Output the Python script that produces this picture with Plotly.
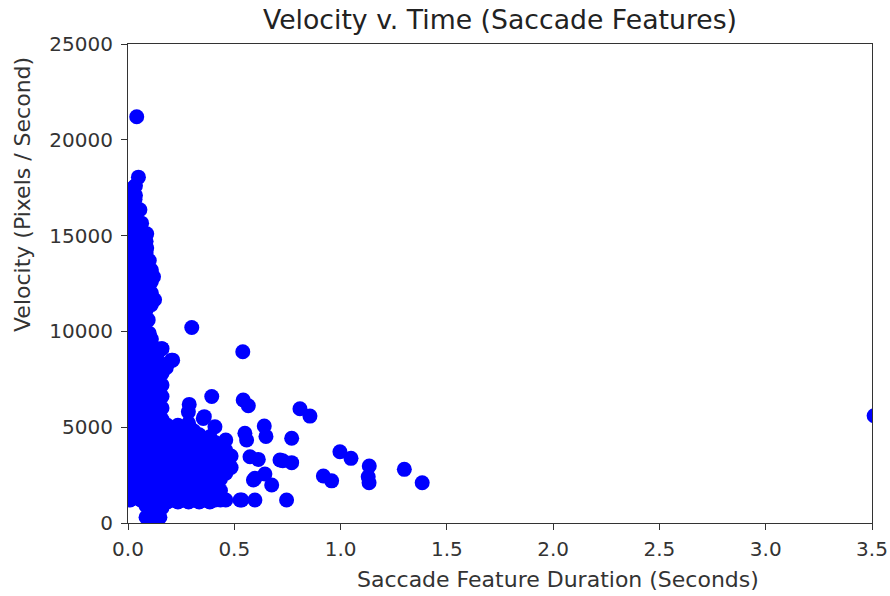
import plotly.graph_objects as go

# ---- data ----
# dense cluster near the origin: one duration per column, with the velocities seen in that column
cluster_durations = [0.010, 0.035, 0.060, 0.085, 0.110, 0.135, 0.150, 0.160, 0.185, 0.210,
                     0.235, 0.260, 0.285, 0.310, 0.335, 0.360, 0.385, 0.410, 0.435, 0.460, 0.485]
cluster_velocities = [
    [1200, 1800, 2400, 3000, 3600, 4200, 4800, 5400, 6000, 6600, 7200, 7800, 8400, 9000,
     9600, 10200, 10800, 11400, 12000, 12600, 13200, 13800, 14400, 15000, 15600, 16200,
     16800, 17400],
    [1500, 2100, 2700, 3300, 3900, 4500, 5100, 5700, 6300, 6900, 7500, 8100, 8700, 9300,
     9900, 10500, 11100, 11700, 12300, 12900, 13500, 14100, 14700, 15300, 15900, 16500,
     17100, 17600],
    [1200, 1800, 2400, 3000, 3600, 4200, 4800, 5400, 6000, 6600, 7200, 7800, 8400, 9000,
     9600, 10200, 10800, 11400, 12000, 12600, 13200, 13800, 14400, 15000, 15600],
    [300, 900, 1500, 2100, 2700, 3300, 3900, 4500, 5100, 5700, 6300, 6900, 7500, 8100,
     8700, 9300, 9900, 10500, 11100, 11700, 12300, 12900, 13500, 14100, 14700],
    [300, 800, 1200, 1800, 2400, 3000, 3600, 4200, 4800, 5400, 6000, 6600, 7200, 7800,
     8400, 9000, 9600, 11400, 12000, 12600, 13200],
    [300, 900, 1500, 2100, 2700, 3300, 3900, 4500, 5100, 5700, 6300, 6900, 7500, 8100,
     8700, 9100],
    [300],
    [800, 1200, 1800, 2400, 3000, 3600, 4200, 4800, 5400, 6000, 6600, 7200, 7800, 8200,
     9100],
    [1100, 1500, 2100, 2700, 3300, 3900, 4500, 5100, 8300],
    [1200, 1800, 2400, 3000, 3600, 4200, 4800, 8500],
    [1100, 1600, 2200, 2800, 3400, 4000, 4600, 5100],
    [1200, 1800, 2400, 3000, 3600, 4200, 4800],
    [1100, 1600, 2200, 2800, 3400, 4000, 4600, 5200],
    [1200, 1800, 2400, 3000, 3600, 4200, 4800],
    [1100, 1600, 2200, 2800, 3400, 4000, 4600],
    [1200, 1800, 2400, 3000, 3600, 4200],
    [1100, 1600, 2200, 2800, 3400, 4000, 4500],
    [1200, 1800, 2400, 3000, 3600, 4200],
    [1200, 1700, 2300, 2900, 3500, 4100],
    [1200, 2600, 3200, 3800],
    [2900, 3500],
]

# points on the tips of the cluster
tip_durations = [0.030, 0.033, 0.041, 0.049, 0.056, 0.064, 0.088, 0.088, 0.100, 0.100,
                 0.120, 0.125, 0.095, 0.100, 0.158, 0.205, 0.180]
tip_velocities = [17550, 16900, 21200, 18050, 16350, 15650, 15100, 14350, 13700, 12650,
                  12850, 11650, 10600, 9900, 9100, 8500, 8100]

# scattered points away from the cluster
outer_durations = [0.300, 0.288, 0.284, 0.359, 0.354, 0.394, 0.409, 0.460,
                   0.540, 0.542, 0.566, 0.550, 0.558, 0.574, 0.613, 0.590, 0.597, 0.644, 0.676,
                   0.527, 0.535, 0.597, 0.641, 0.649, 0.715, 0.728, 0.770, 0.770, 0.746,
                   0.809, 0.856, 0.997, 1.049, 0.919, 0.958, 1.135, 1.130, 1.134, 1.300, 1.384,
                   3.510]
outer_velocities = [10200, 6190, 5800, 5550, 5460, 6600, 5025, 4330,
                    8940, 6420, 6120, 4680, 4330, 3460, 3320, 2245, 2330, 2555, 1985,
                    1200, 1200, 1200, 5060, 4520, 3290, 3250, 3150, 4420, 1200,
                    5960, 5580, 3720, 3375, 2450, 2200, 2975, 2415, 2100, 2800, 2100,
                    5600]

x_ticks = [0.0, 0.5, 1.0, 1.5, 2.0, 2.5, 3.0, 3.5]
x_tick_labels = ["0.0", "0.5", "1.0", "1.5", "2.0", "2.5", "3.0", "3.5"]
y_ticks = [0, 5000, 10000, 15000, 20000, 25000]
y_tick_labels = ["0", "5000", "10000", "15000", "20000", "25000"]

title_text = "Velocity v. Time (Saccade Features)"
x_label = "Saccade Feature Duration (Seconds)"
y_label = "Velocity (Pixels / Second)"

# ---- assemble all points ----
duration = []
velocity = []
for d, vs in zip(cluster_durations, cluster_velocities):
    duration += [d] * len(vs)
    velocity += vs
duration += tip_durations + outer_durations
velocity += tip_velocities + outer_velocities

fig = go.Figure(
    go.Scatter(
        x=duration,
        y=velocity,
        mode="markers",
        marker=dict(color="#0000ff", size=15, line=dict(width=0)),
        cliponaxis=True,
        showlegend=False,
    )
)

font_family = "DejaVu Sans"
axis_common = dict(
    showline=True,
    linecolor="#333333",
    linewidth=1.2,
    mirror=True,
    showgrid=False,
    zeroline=False,
    ticks="outside",
    ticklen=6,
    tickwidth=1.2,
    tickcolor="#333333",
    automargin=False,
    tickfont=dict(family=font_family, size=20, color="#333333"),
)

fig.update_layout(
    width=890,
    height=596,
    margin=dict(l=128, r=18, t=44, b=73),
    paper_bgcolor="white",
    plot_bgcolor="white",
    title=dict(
        text=title_text,
        x=(128 + 872) / 2 / 890,
        xanchor="center",
        y=1 - 20 / 596,
        yanchor="middle",
        font=dict(family=font_family, size=26.7, color="#222222"),
    ),
    xaxis=dict(
        range=[0, 3.5],
        tickvals=x_ticks,
        ticktext=x_tick_labels,
        ticklabelstandoff=2,
        **axis_common,
    ),
    yaxis=dict(
        range=[0, 25000],
        tickvals=y_ticks,
        ticktext=y_tick_labels,
        ticklabelstandoff=4,
        **axis_common,
    ),
    annotations=[
        dict(text=x_label, xref="paper", yref="paper",
             x=(558 - 128) / 744, y=(523 - 579) / 479,
             xanchor="center", yanchor="middle", showarrow=False,
             font=dict(family=font_family, size=22, color="#333333")),
        dict(text=y_label, xref="paper", yref="paper",
             x=(22 - 128) / 744, y=(523 - 194) / 479, textangle=-90,
             xanchor="center", yanchor="middle", showarrow=False,
             font=dict(family=font_family, size=22, color="#333333")),
    ],
)

fig.write_html("out.html")
